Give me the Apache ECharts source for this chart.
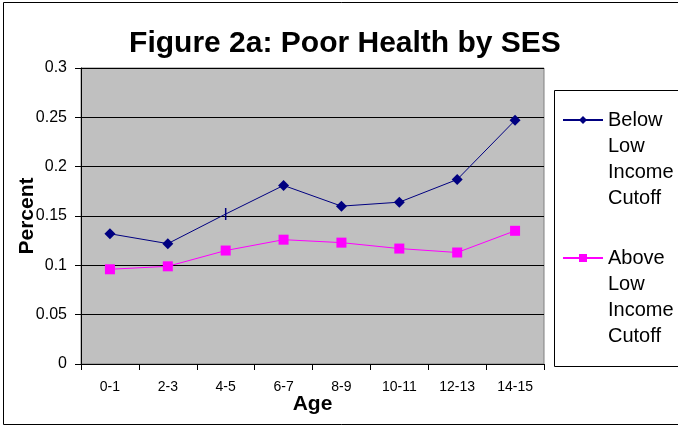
<!DOCTYPE html>
<html>
<head>
<meta charset="utf-8">
<script src="https://cdn.jsdelivr.net/npm/echarts@6/dist/echarts.min.js"></script>
<style>
  html, body { margin: 0; padding: 0; background: #fff; }
  #chart { width: 678px; height: 426px; }
</style>
</head>
<body>
<div id="chart"></div>
<script>
// age groups
const ages = ["0-1", "2-3", "4-5", "6-7", "8-9", "10-11", "12-13", "14-15"];
// share reporting poor health
const belowCutoff = [0.132, 0.122, 0.152, 0.181, 0.160, 0.164, 0.187, 0.247];
const aboveCutoff = [0.096, 0.099, 0.115, 0.126, 0.123, 0.117, 0.113, 0.135];
const yTicks = [0, 0.05, 0.1, 0.15, 0.2, 0.25, 0.3];

const belowName = "Below\nLow\nIncome\nCutoff";
const aboveName = "Above\nLow\nIncome\nCutoff";
const font = "Liberation Sans, Arial, sans-serif";

const chart = echarts.init(document.getElementById("chart"));

// legend text is 4 lines; 3 blank lines in front keep the marker on the first one
const legendText = {
    fontFamily: font,
    fontSize: 20,
    color: "#000",
    lineHeight: 26,
};
const legendBase = {
    orient: "vertical",
    left: 562,
    padding: 0,
    itemWidth: 40,
    itemHeight: 10,
    itemGap: 5,
    formatter: (name) => "\n\n\n" + name,
    textStyle: legendText,
};

const option = {
    animation: false,
    backgroundColor: "#fff",
    title: {
        text: "Figure 2a: Poor Health by SES",
        left: 340,
        textAlign: "center",
        top: 24,
        textStyle: { fontFamily: font, fontSize: 30, fontWeight: "bold", color: "#000" },
    },
    grid: {
        left: 81, top: 68, right: 134, bottom: 62,
        outerBoundsMode: "none",
        containLabel: false,
        show: true, backgroundColor: "#c0c0c0", borderColor: "#808080", borderWidth: 1,
    },
    legend: [
        Object.assign({}, legendBase, { data: [belowName], top: 29 }),
        Object.assign({}, legendBase, { data: [aboveName], top: 167 }),
    ],
    xAxis: {
        type: "category",
        data: ages,
        boundaryGap: true,
        name: "Age",
        nameLocation: "middle",
        nameGap: 30,
        nameMoveOverlap: false,
        nameTextStyle: { fontFamily: font, fontSize: 21, fontWeight: "bold", color: "#000" },
        axisLine: { lineStyle: { color: "#000", width: 1 } },
        axisTick: { show: true, length: 6, alignWithLabel: false, lineStyle: { color: "#000" } },
        axisLabel: { fontFamily: font, fontSize: 14, color: "#000", margin: 16 },
        splitLine: { show: false },
    },
    yAxis: {
        type: "value",
        min: yTicks[0],
        max: yTicks[yTicks.length - 1],
        interval: 0.05,
        name: "Percent",
        nameLocation: "middle",
        nameGap: 43,
        nameMoveOverlap: false,
        nameTextStyle: { fontFamily: font, fontSize: 21, fontWeight: "bold", color: "#000" },
        axisLine: { show: true, lineStyle: { color: "#000", width: 1 } },
        axisTick: { show: true, length: 6, lineStyle: { color: "#000" } },
        axisLabel: { fontFamily: font, fontSize: 16, color: "#000", margin: 14 },
        splitLine: { show: true, lineStyle: { color: "#000", width: 1 } },
    },
    series: [
        {
            name: belowName,
            type: "line",
            data: belowCutoff.map((v, i) =>
                // the 4-5 point shows only a small tick in the original
                i === 2 ? { value: v, symbol: "rect", symbolSize: [1.5, 12] } : v
            ),
            symbol: "diamond",
            symbolSize: 11,
            showAllSymbol: true,
            color: "#000080",
            lineStyle: { color: "#000080", width: 1 },
            itemStyle: { color: "#000080" },
        },
        {
            name: aboveName,
            type: "line",
            data: aboveCutoff,
            symbol: "rect",
            symbolSize: 10,
            showAllSymbol: true,
            color: "#ff00ff",
            lineStyle: { color: "#ff00ff", width: 1 },
            itemStyle: { color: "#ff00ff" },
        },
    ],
    graphic: [
        // outer chart border (right side runs off the page)
        {
            type: "rect",
            shape: { x: 3.5, y: 2.5, width: 720, height: 422 },
            style: { fill: "none", stroke: "#000", lineWidth: 1 },
            silent: true,
        },
        // legend box
        {
            type: "rect",
            shape: { x: 554.5, y: 90.5, width: 200, height: 276 },
            style: { fill: "none", stroke: "#000", lineWidth: 1 },
            silent: true,
        },
    ],
};

chart.setOption(option);
</script>
</body>
</html>
